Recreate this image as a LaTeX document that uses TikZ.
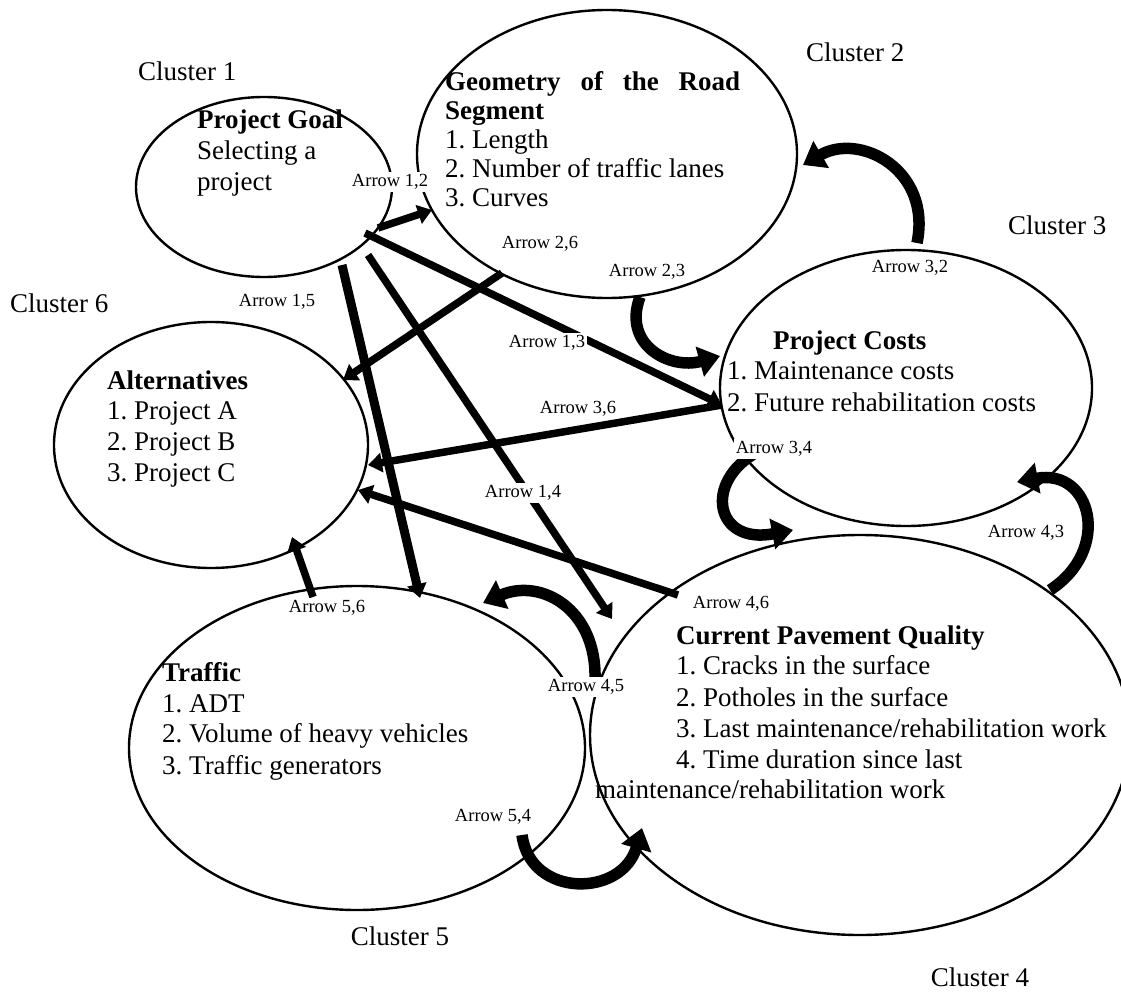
\documentclass[tikz,border=0pt]{standalone}
\usepackage{fontspec}
\setmainfont{Liberation Serif}
\usetikzlibrary{shapes.geometric,arrows.meta}
\begin{document}
\frenchspacing
\begin{tikzpicture}[x=1pt,y=-1pt,
  cluster/.style={ellipse,draw,line width=2.4pt,inner sep=0pt},
  txt/.style={anchor=base west,inner sep=0pt,font=\fontsize{27}{31}\selectfont},
  hd/.style={anchor=base west,inner sep=0pt,font=\fontsize{27}{31}\selectfont\bfseries},
  ctxt/.style={anchor=base,inner sep=0pt,font=\fontsize{27}{31}\selectfont},
  lab/.style={fill=white,inner sep=2pt,font=\fontsize{18.5}{20}\selectfont},
  sarrow/.style={line width=7.5pt,-{Triangle[length=14pt,width=19pt]}},
  carrow/.style={line width=11.5pt,-{Triangle[length=21pt,width=30pt]}},
]
\useasboundingbox (0,0) rectangle (1121,992);

% clusters
\node[cluster,minimum width=256pt,minimum height=180pt] (pg) at (264,187) {};
\node[cluster,minimum width=380pt,minimum height=288pt] (geo) at (607,154) {};
\node[cluster,minimum width=372pt,minimum height=276pt] (pc) at (906,388) {};
\node[cluster,minimum width=540pt,minimum height=400pt] (cpq) at (860,735) {};
\node[cluster,minimum width=456pt,minimum height=324pt] (tr) at (357,748) {};
\node[cluster,minimum width=314pt,minimum height=246pt] (alt) at (211,445) {};

% cluster names
\node[txt] (c1) at (138,81) {Cluster 1};
\node[txt] (c2) at (806,62) {Cluster 2};
\node[txt] (c3) at (1008,235) {Cluster 3};
\node[txt] (c6) at (10,312) {Cluster 6};
\node[ctxt] (c5) at (400,945) {Cluster 5};
\node[ctxt] (c4) at (980,986) {Cluster 4};

% texts
\node[hd] (pg1) at (197,129) {Project Goal};
\node[txt] (pg2) at (197,160) {Selecting a};
\node[txt] (pg3) at (197,191) {project};

\node[hd] (geo1) at (445,91) {\makebox[295pt][s]{Geometry of the Road}};
\node[hd] (geo2) at (445,120) {Segment};
\node[txt] (geo3) at (445,149) {1. Length};
\node[txt] (geo4) at (445,178) {2. Number of traffic lanes};
\node[txt] (geo5) at (445,207) {3. Curves};

\node[hd] (pc1) at (773,349) {Project Costs};
\node[txt] (pc2) at (727,379) {1. Maintenance costs};
\node[txt] (pc3) at (727,411) {2. Future rehabilitation costs};

\node[hd] (alt1) at (107,389) {Alternatives};
\node[txt] (alt2) at (107,419) {1. Project A};
\node[txt] (alt3) at (107,450) {2. Project B};
\node[txt] (alt4) at (107,481) {3. Project C};

\node[hd] (tr1) at (162,681) {Traffic};
\node[txt] (tr2) at (162,712) {1. ADT};
\node[txt] (tr3) at (162,742) {2. Volume of heavy vehicles};
\node[txt] (tr4) at (162,774) {3. Traffic generators};

\node[hd] (cpq1) at (676,644) {Current Pavement Quality};
\node[txt] (cpq2) at (676,674) {1. Cracks in the surface};
\node[txt] (cpq3) at (676,706) {2. Potholes in the surface};
\node[txt] (cpq4) at (676,737) {3. Last maintenance/rehabilitation work};
\node[txt] (cpq5) at (676,768) {4. Time duration since last};
\node[txt] (cpq6) at (595,798) {maintenance/rehabilitation work};

% straight arrows: end points
\coordinate (s12) at (378,228); \coordinate (e12) at (432,210);
\coordinate (s13) at (365,233); \coordinate (e13) at (722,405);
\coordinate (s14) at (368,255); \coordinate (e14) at (612,619);
\coordinate (s15) at (342,265); \coordinate (e15) at (420,598);
\coordinate (s26) at (502,273); \coordinate (e26) at (343,380);
\coordinate (s36) at (722,405); \coordinate (e36) at (368,465);
\coordinate (s46) at (678,595); \coordinate (e46) at (358,490);
\coordinate (s56) at (313,597); \coordinate (e56) at (292,537);

\draw[sarrow] (s12) -- (e12);
\draw[sarrow] (s13) -- (e13);
\draw[sarrow] (s14) -- (e14);
\draw[sarrow,line width=9pt] (s15) -- (e15);
\draw[sarrow] (s26) -- (e26);
\draw[sarrow] (s36) -- (e36);
\draw[sarrow] (s46) -- (e46);
\draw[sarrow] (s56) -- (e56);

% curved arrows
\coordinate (s23) at (640,297); \coordinate (e23) at (720,356);
\coordinate (s32) at (917,243); \coordinate (e32) at (803,165);
\coordinate (s34) at (757,452); \coordinate (e34) at (793,530);
\coordinate (s43) at (1050,590); \coordinate (e43) at (1017,482);
\coordinate (s45) at (595,680); \coordinate (e45) at (483,603);
\coordinate (s54) at (522,835); \coordinate (e54) at (642,828);

\draw[carrow] (s23) .. controls (622,345) and (670,370) .. (e23);
\draw[carrow] (s32) .. controls (932,170) and (860,132) .. (e32);
\draw[carrow] (s34) .. controls (703,482) and (715,545) .. (e34);
\draw[carrow] (s43) .. controls (1112,550) and (1092,468) .. (e43);
\draw[carrow] (s45) .. controls (597,608) and (540,578) .. (e45);
\draw[carrow] (s54) .. controls (530,898) and (622,898) .. (e54);

% arrow labels
\node[lab] (l12) at (390,182) {Arrow 1,2};
\node[lab] (l26) at (540,244) {Arrow 2,6};
\node[lab] (l23) at (647,272) {Arrow 2,3};
\node[lab] (l32) at (910,268) {Arrow 3,2};
\node[lab] (l15) at (277,302) {Arrow 1,5};
\node[lab] (l13) at (547,343) {Arrow 1,3};
\node[lab] (l36) at (578,409) {Arrow 3,6};
\node[lab] (l34) at (774,449) {Arrow 3,4};
\node[lab] (l14) at (523,493) {Arrow 1,4};
\node[lab] (l43) at (1026,533) {Arrow 4,3};
\node[lab] (l46) at (731,604) {Arrow 4,6};
\node[lab] (l56) at (327,608) {Arrow 5,6};
\node[lab] (l45) at (586,687) {Arrow 4,5};
\node[lab] (l54) at (493,817) {Arrow 5,4};
\end{tikzpicture}
\end{document}
